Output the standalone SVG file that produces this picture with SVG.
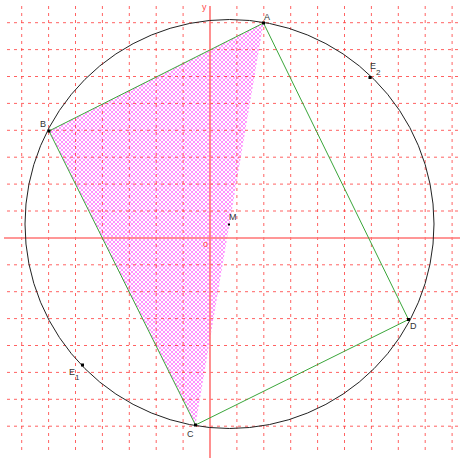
<svg xmlns="http://www.w3.org/2000/svg" width="460" height="458" viewBox="0 0 460 458">
<style>
.grid{stroke:#ff3b3b;stroke-width:1;stroke-dasharray:3 4;fill:none;opacity:0.8}
.axis{stroke:#ff7474;stroke-width:1.6;fill:none}
.circ{stroke:#222;stroke-width:1;fill:none}
.edge{stroke:#3aa63a;stroke-width:1;fill:none}
.pt{fill:#000}
.lbl{font-family:"Liberation Sans",Arial,sans-serif;font-size:9px;fill:#333}
.sub{font-family:"Liberation Sans",Arial,sans-serif;font-size:8px;fill:#333}
.red{font-family:"Liberation Sans",Arial,sans-serif;font-size:9px;fill:#ff4a4a}
</style>
<defs>
<pattern id="hatch" width="4" height="4" patternUnits="userSpaceOnUse">
<rect width="4" height="4" fill="#fff"/>
<path d="M0,0 L4,4 M4,0 L0,4" stroke="#ff70ff" stroke-width="0.75"/>
</pattern>
</defs>
<rect width="460" height="458" fill="#fff"/>
<g id="triangle-ABC">
<polygon points="263.5,23 49,131 195.5,425" fill="url(#hatch)"/>
</g>
<g id="grid">
<path class="grid" d="M21.7,6V453 M48.6,6V453 M75.5,6V453 M102.4,6V453 M129.3,6V453 M156.2,6V453 M183.1,6V453 M236.9,6V453 M263.8,6V453 M290.7,6V453 M317.6,6V453 M344.5,6V453 M371.4,6V453 M398.3,6V453 M425.2,6V453 M452.1,6V453"/>
<path class="grid" d="M7,22.7H460 M7,49.6H460 M7,76.5H460 M7,103.4H460 M7,130.3H460 M7,157.2H460 M7,184.1H460 M7,211H460 M7,264.8H460 M7,291.7H460 M7,318.6H460 M7,345.5H460 M7,372.4H460 M7,399.3H460 M7,426.2H460"/>
</g>
<g id="axes">
<line class="axis" x1="210" y1="6" x2="210" y2="458"/>
<line class="axis" x1="4" y1="238" x2="460" y2="238"/>
<text class="red" x="202" y="10">y</text>
<text class="red" x="203" y="247">o</text>
</g>
<g id="circle">
<circle class="circ" cx="229.5" cy="224" r="204.5"/>
</g>
<g id="connectors">
<line class="edge" x1="263.5" y1="23" x2="49" y2="131"/>
<line class="edge" x1="49" y1="131" x2="195.5" y2="425"/>
<line class="edge" x1="195.5" y1="425" x2="408.5" y2="319.5"/>
<line class="edge" x1="408.5" y1="319.5" x2="263.5" y2="23"/>
</g>
<g id="A"><rect class="pt" x="262" y="21.5" width="3" height="3"/><text class="lbl" x="264" y="20">A</text></g>
<g id="B"><rect class="pt" x="47.5" y="129.5" width="3" height="3"/><text class="lbl" x="40" y="127">B</text></g>
<g id="C"><rect class="pt" x="194" y="423.5" width="3" height="3"/><text class="lbl" x="187" y="437">C</text></g>
<g id="D"><rect class="pt" x="407" y="318" width="3" height="3"/><text class="lbl" x="410" y="329">D</text></g>
<g id="E1"><rect class="pt" x="81" y="363.5" width="3" height="3"/><text class="lbl" x="69" y="375">E</text><text class="sub" x="75" y="380">1</text></g>
<g id="E2"><rect class="pt" x="368.5" y="76" width="3" height="3"/><text class="lbl" x="370" y="69">E</text><text class="sub" x="376" y="75">2</text></g>
<g id="M"><rect class="pt" x="228" y="223.5" width="2" height="2"/><text class="lbl" x="229" y="220">M</text></g>
</svg>
